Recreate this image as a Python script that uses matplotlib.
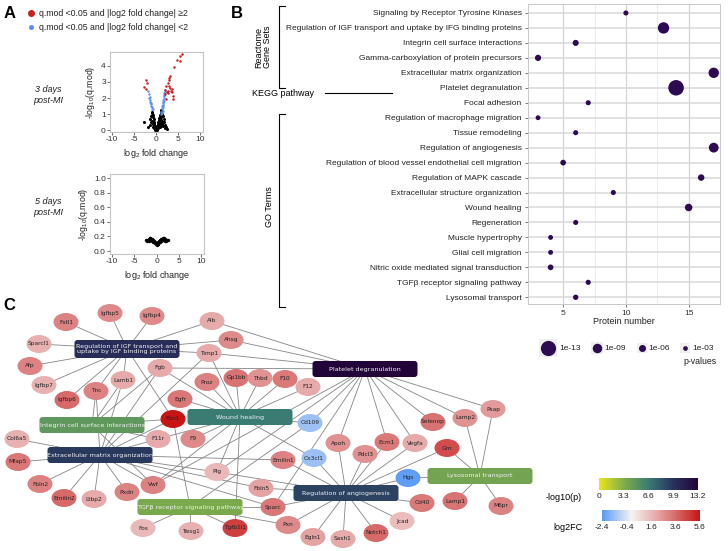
import numpy as np
import matplotlib
matplotlib.use("Agg")
import matplotlib.pyplot as plt
from matplotlib.patches import Ellipse, FancyBboxPatch, Rectangle
from matplotlib.colors import LinearSegmentedColormap, Normalize
from matplotlib.cm import ScalarMappable

plt.rcParams['font.family'] = ['Liberation Sans', 'DejaVu Sans']
plt.rcParams['mathtext.fontset'] = 'custom'
plt.rcParams['mathtext.rm'] = 'Liberation Sans'
plt.rcParams['mathtext.it'] = 'Liberation Sans:italic'
plt.rcParams['axes.unicode_minus'] = False

# ---------------- DATA ----------------
# Panel A: volcano (3 days post-MI)
red_x = [5.8, 5.45, 4.7, 5.45, 3.94, 3.18, 2.8, 3.0, 2.6, 2.3, 3.0, 3.2, 2.1, 3.3, 3.5, 2.6, 3.9, 2.0, 2.3,
         3.9, 2.45, 2.75, 3.6, -2.35, -2.1, -2.7, -2.2]
red_y = [4.75, 4.59, 4.38, 4.28, 3.93, 3.35, 3.15, 3.25, 2.94, 2.78, 2.74, 2.64, 2.53, 2.43, 2.57, 2.33, 2.13, 2.23,
         1.93, 1.95, 2.4, 2.45, 2.35, 3.1, 2.94, 2.7, 2.55]
blue_x = [-1.75, -1.6, -1.5, -1.4, -1.3, -1.2, -1.1, -1.0, -0.9, -0.8, -1.55, -1.25,
          1.15, 1.2, 1.3, 1.35, 1.4, 1.45, 1.5, 1.5, 1.55, 1.6, 1.65, 1.7, 1.7, 1.75, 1.8, 1.85, 1.9, 2.0, 1.4, 1.6]
blue_y = [2.43, 2.25, 2.1, 1.9, 1.75, 1.62, 1.5, 1.42, 1.35, 1.3, 2.0, 1.7,
          1.0, 1.15, 1.3, 1.4, 1.5, 1.2, 1.45, 1.6, 1.75, 1.9, 1.7, 1.85, 2.0, 2.15, 2.3, 2.2, 2.4, 2.5, 1.1, 1.55]
black_x = [0, 0.1, -0.1, 0.2, -0.2, 0.3, -0.3, 0.4, -0.4, 0.5, -0.5, 0.6, -0.6, 0.7, -0.7, 0.8, -0.8, 0.9, -0.9,
           1.0, -1.0, 1.1, 1.2, -0.3, 0.3, 0.5, -0.5, 0.7, -0.7, 0.9, -0.9, 1.1, 1.0, 1.3, 1.5, 1.2, 1.4, 1.6,
           1.9, 2.2, -1.1, -1.3, -1.2, 0.6, -0.6, 0.2, -0.2, 1.7, -2.8, -1.5, 0.4, 0.8, 1.0, -0.4, 0.0, 0.1,
           2.5, 2.0, 1.8, -1.8, -0.8, 1.3, 1.6, 0.6]
black_y = [0.05, 0.1, 0.1, 0.2, 0.2, 0.3, 0.3, 0.42, 0.42, 0.52, 0.55, 0.62, 0.68, 0.75, 0.8, 0.85, 0.95, 0.95, 1.05,
           1.05, 1.15, 1.15, 1.25, 0.1, 0.1, 0.2, 0.25, 0.3, 0.4, 0.45, 0.6, 0.6, 0.3, 0.4, 0.55, 0.85, 0.9, 0.3,
           0.35, 0.2, 0.5, 0.7, 0.9, 0.45, 0.45, 0.05, 0.05, 0.7, 0.5, 0.35, 0.15, 0.2, 0.65, 0.15, 0.15, 0.2,
           0.1, 0.15, 0.5, 0.2, 0.2, 1.0, 0.9, 0.3]
# Panel A: volcano (5 days post-MI)
d5_x = [-2.3, -2.0, -1.8, -1.6, -1.4, -1.2, -1.0, -0.8, -0.6, -0.4, -0.2, 0.0, 0.2, 0.4, 0.6, 0.8, 1.0, 1.2, 1.4,
        1.6, 1.8, 2.0, 2.2, 2.5, -1.8, -1.2, -0.8, -0.4, 0.4, 0.8, 1.2, 1.8, -1.5, 1.5, -0.2, 0.2, -1.0, 1.0, 2.2, -2.1]
d5_y = [0.145, 0.15, 0.16, 0.175, 0.18, 0.17, 0.16, 0.15, 0.135, 0.12, 0.105, 0.09, 0.105, 0.12, 0.135, 0.15,
        0.16, 0.17, 0.18, 0.175, 0.165, 0.155, 0.15, 0.145, 0.14, 0.145, 0.13, 0.105, 0.1, 0.13, 0.145, 0.14,
        0.155, 0.155, 0.095, 0.095, 0.14, 0.14, 0.135, 0.135]

# Panel B: enrichment
terms = ["Signaling by Receptor Tyrosine Kinases",
         "Regulation of IGF transport and uptake by IFG binding proteins",
         "Integrin cell surface interactions",
         "Gamma-carboxylation of protein precursors",
         "Extracellular matrix organization",
         "Platelet degranulation",
         "Focal adhesion",
         "Regulation of macrophage migration",
         "Tissue remodeling",
         "Regulation of angiogenesis",
         "Regulation of blood vessel endothelial cell migration",
         "Regulation of MAPK cascade",
         "Extracellular structure organization",
         "Wound healing",
         "Regeneration",
         "Muscle hypertrophy",
         "Glial cell migration",
         "Nitric oxide mediated signal transduction",
         "TGFβ receptor signaling pathway",
         "Lysosomal transport"]
protein_number = [10, 13, 6, 3, 17, 14, 7, 3, 6, 17, 5, 16, 9, 15, 6, 4, 4, 4, 7, 6]
neg_log10_p = [3.5, 10.3, 4.8, 5.0, 9.6, 13.2, 3.5, 3.2, 3.5, 9.2, 4.3, 5.3, 3.5, 6.6, 3.5, 3.2, 3.2, 4.3, 3.6, 3.9]
legend_p = [13, 9, 6, 3]
legend_labels = ["1e-13", "1e-09", "1e-06", "1e-03"]

# Panel C: network
genes = ["Fstl1", "Igfbp5", "Igfbp4", "Alb", "Sparcl1", "Ahsg", "Afp", "Timp1", "Fgb", "Lamb1", "Igfbp7",
         "Proz", "Gp1bb", "Tnc", "Igfbp6", "Egfr", "Fbn1", "Thbd", "F10", "F12", "Cd109", "F11r", "F9",
         "Apoh", "Pdcl3", "Emilin1", "Cx3cl1", "Col6a5", "Mfap5", "Fbln2", "Emilin2", "Ltbp2", "Pxdn", "Vwf",
         "Plg", "Fos", "Twsg1", "Tgfb1i1", "Fbln5", "Sparc", "Pxn", "Egln1", "Sash1", "Notch1", "Jcad", "Cd40",
         "Hgs", "Ecm1", "Vegfa", "Grn", "Lamp1", "Selenop", "Lamp2", "Psap", "M6pr"]
log2fc = [3.0, 2.8, 2.8, 2.0, 1.8, 2.8, 3.0, 2.0, 2.0, 2.0, 1.8,
          3.0, 3.4, 3.0, 3.6, 3.3, 5.6, 2.6, 3.2, 2.0, -1.4, 2.0, 2.8,
          2.6, 2.6, 3.0, -1.4, 1.8, 3.3, 3.0, 3.6, 2.0, 3.0, 3.0,
          1.6, 1.6, 1.8, 4.6, 2.2, 3.3, 2.8, 2.2, 2.0, 3.6, 1.5, 3.2,
          -2.3, 3.2, 2.0, 4.3, 3.4, 3.4, 2.6, 2.4, 3.0]
hub_terms = ["Regulation of IGF transport and uptake by IFG binding proteins", "Platelet degranulation",
             "Integrin cell surface interactions", "Wound healing", "Extracellular matrix organization",
             "TGFβ receptor signaling pathway", "Regulation of angiogenesis", "Lysosomal transport"]
hub_labels = ["Regulation of IGF transport and\nuptake by IGF binding proteins", "Platelet degranulation",
              "Integrin cell surface interactions", "Wound healing", "Extracellular matrix organization",
              "TGFβ receptor signaling pathway", "Regulation of angiogenesis", "Lysosomal transport"]
hub_members = [
    ["Fstl1", "Igfbp5", "Igfbp4", "Alb", "Sparcl1", "Ahsg", "Afp", "Timp1", "Igfbp7", "Tnc", "Igfbp6", "Lamb1", "Fbn1"],
    ["Alb", "Ahsg", "Timp1", "Fgb", "Psap", "Lamp2", "Selenop", "Vegfa", "Ecm1", "Apoh", "Cd109", "Plg", "Vwf", "Sparc"],
    ["Fgb", "Fbn1", "Tnc", "Lamb1", "F11r", "Vwf"],
    ["Proz", "Gp1bb", "Thbd", "F10", "F12", "F9", "Egfr", "Timp1", "Fgb", "Cd109", "Plg", "Vwf", "F11r", "Cx3cl1", "Tgfb1i1"],
    ["Col6a5", "Mfap5", "Fbln2", "Emilin2", "Ltbp2", "Pxdn", "Vwf", "Fbn1", "Tnc", "Lamb1", "Fgb", "F11r", "Emilin1",
     "Fbln5", "Sparc", "Plg", "Timp1"],
    ["Fos", "Twsg1", "Tgfb1i1", "Fbn1", "Cd109", "Sparc", "Pxn"],
    ["Apoh", "Pdcl3", "Ecm1", "Vegfa", "Grn", "Hgs", "Cd40", "Jcad", "Notch1", "Sash1", "Egln1", "Pxn", "Sparc",
     "Fbln5", "Emilin1", "Cx3cl1", "Plg"],
    ["Grn", "Lamp2", "Psap", "Lamp1", "M6pr", "Hgs"],
]

# ---------------- LAYOUT (pixel positions) ----------------
gene_pos = {
    "Fstl1": (66, 322), "Igfbp5": (110, 313), "Igfbp4": (152, 316), "Alb": (212, 321), "Sparcl1": (39, 344),
    "Ahsg": (231, 340), "Afp": (30, 366), "Timp1": (209, 353), "Fgb": (160, 368), "Lamb1": (123, 380),
    "Igfbp7": (44, 385), "Proz": (207, 382), "Gp1bb": (236, 378), "Tnc": (96, 391), "Igfbp6": (67, 400),
    "Egfr": (180, 399), "Fbn1": (173, 419), "Thbd": (260, 378), "F10": (285, 379), "F12": (308, 387),
    "Cd109": (310, 423), "F11r": (158, 439), "F9": (193, 439), "Apoh": (338, 443), "Pdcl3": (365, 454),
    "Emilin1": (283, 460), "Cx3cl1": (314, 458), "Col6a5": (17, 439), "Mfap5": (18, 462), "Fbln2": (40, 484),
    "Emilin2": (64, 498), "Ltbp2": (94, 499), "Pxdn": (127, 492), "Vwf": (153, 485), "Plg": (217, 472),
    "Fos": (143, 528), "Twsg1": (191, 531), "Tgfb1i1": (235, 528), "Fbln5": (261, 488), "Sparc": (273, 507),
    "Pxn": (288, 525), "Egln1": (313, 537), "Sash1": (343, 539), "Notch1": (376, 533), "Jcad": (402, 521),
    "Cd40": (422, 503), "Hgs": (408, 478), "Ecm1": (387, 442), "Vegfa": (415, 443), "Grn": (447, 448),
    "Lamp1": (455, 501), "Selenop": (433, 422), "Lamp2": (465, 418), "Psap": (493, 409), "M6pr": (501, 506),
}
hub_pos = [(127, 349), (365, 369), (92, 425), (240, 417), (100, 455), (190, 507), (346, 493), (480, 476)]

W, H = 728, 551
fig = plt.figure(figsize=(7.28, 5.51), dpi=100)


def px_axes(x0, y0, x1, y1, **kw):
    return fig.add_axes([x0 / W, 1 - y1 / H, (x1 - x0) / W, (y1 - y0) / H], **kw)


def style_volcano(ax):
    for s in ax.spines.values():
        s.set_color('#c4c4c4')
        s.set_linewidth(0.8)
    ax.tick_params(labelsize=6, length=2, width=0.6, color='#555555', labelcolor='#333333', pad=1)
    ax.set_xlim(-10.45, 10.6)
    ax.set_xticks([-10, -5, 0, 5, 10])
    ax.set_xlabel('log$_2$ fold change', fontsize=6.5, labelpad=3, color='#222222')
    ax.set_ylabel('-log$_{10}$(q.mod)', fontsize=6.3, labelpad=3, color='#222222')


# ---- Panel A ----
axA1 = px_axes(110, 52, 203, 132)
axA1.scatter(black_x, black_y, s=5, color='black', lw=0, zorder=2)
axA1.scatter(blue_x, blue_y, s=3, color='#5b8ff0', lw=0, zorder=3)
axA1.scatter(red_x, red_y, s=3.2, color='#c8201e', lw=0, zorder=4)
style_volcano(axA1)
axA1.set_ylim(-0.1, 4.86)
axA1.set_yticks([0, 1, 2, 3, 4])

axA2 = px_axes(110, 174, 204, 254)
axA2.scatter(d5_x, d5_y, s=6, color='black', lw=0)
style_volcano(axA2)
axA2.set_ylim(-0.04, 1.055)
axA2.set_yticks([0, 0.2, 0.4, 0.6, 0.8, 1.0])
axA2.set_yticklabels(['0.0', '0.2', '0.4', '0.6', '0.8', '1.0'])

# ---- Panel B ----
axB = px_axes(528, 4, 720, 304)
n = len(terms)
yy = np.arange(n)


def diam_px(v):
    return np.interp(v, [3, 6, 9, 13.2], [4.7, 7.0, 9.5, 15.5])


sizes = (diam_px(np.array(neg_log10_p)) * 0.72) ** 2
axB.scatter(protein_number, yy, s=sizes, color='#2e0a52', lw=0, zorder=3)
axB.set_ylim(n - 0.55, -0.6)
axB.set_xlim(2.2, 17.5)
axB.set_yticks(yy)
axB.set_yticklabels(terms, fontsize=5.6, color='#222222')
axB.set_xticks([5, 10, 15])
axB.set_xticks([7.5, 12.5], minor=True)
axB.set_axisbelow(True)
axB.grid(which='major', axis='y', color='#d9d9d9', lw=1.1)
axB.grid(which='major', axis='x', color='#d4d4d4', lw=0.9)
axB.grid(which='minor', axis='x', color='#e2e2e2', lw=0.5)
axB.tick_params(axis='both', which='major', labelsize=6, length=2.5, width=0.6, color='#666666', pad=2)
axB.tick_params(axis='x', which='major', labelcolor='#333333', pad=1.5)
axB.tick_params(which='minor', length=0)
for s in axB.spines.values():
    s.set_color('#c8c8c8')
    s.set_linewidth(0.7)
axB.set_xlabel('Protein number', fontsize=6.5, labelpad=0.5, color='#222222')

# ---- Overlay (annotations + network) ----
ov = fig.add_axes([0, 0, 1, 1], facecolor='none')
ov.set_xlim(0, W)
ov.set_ylim(H, 0)
ov.axis('off')

# panel letters
for lab, (x, y) in zip(['A', 'B', 'C'], [(4, 14), (231, 14), (3, 305)]):
    ov.text(x, y, lab, fontsize=12, fontweight='bold', ha='left', va='center')

# A legend
ov.scatter([31], [13], s=(7 * 0.72) ** 2, color='#c8201e', lw=0)
ov.scatter([30.5], [27], s=(5 * 0.72) ** 2, color='#5b8ff0', lw=0)
ov.text(39, 13, 'q.mod <0.05 and |log2 fold change| ≥2', fontsize=6.3, va='center', color='#222222')
ov.text(39, 27, 'q.mod <0.05 and |log2 fold change| <2', fontsize=6.3, va='center', color='#222222')
ov.text(48, 95, '3 days\npost-MI', fontsize=6.5, style='italic', ha='center', va='center', color='#222222')
ov.text(48, 207, '5 days\npost-MI', fontsize=6.5, style='italic', ha='center', va='center', color='#222222')

# B brackets
ov.plot([285, 279, 279, 285], [6, 6, 88, 88], color='black', lw=0.8)
ov.text(263, 47, 'Reactome\nGene Sets', rotation=90, fontsize=6.5, ha='center', va='center', linespacing=1.0)
ov.text(252, 93, 'KEGG pathway', fontsize=6.5, ha='left', va='center')
ov.plot([325, 392], [93, 93], color='black', lw=0.8)
ov.plot([285, 279, 279, 285], [114, 114, 307, 307], color='black', lw=0.8)
ov.text(269, 207, 'GO Terms', rotation=90, fontsize=6.5, ha='center', va='center')

# B legend
leg_cx = [548, 597, 642, 685]
leg_tx = [559, 604, 648, 692]
for v, lab, cx, tx in zip(legend_p, legend_labels, leg_cx, leg_tx):
    d = diam_px(v)
    k = max(d + 3, 10)
    ov.add_patch(Rectangle((cx - k / 2, 348 - k / 2), k, k, color='#efefef', lw=0, zorder=1))
    ov.scatter([cx], [348], s=(d * 0.72) ** 2, color='#2e0a52', lw=0, zorder=2)
    ov.text(tx, 348, lab, fontsize=6, va='center', ha='left', color='#222222')
ov.text(683, 361, 'p-values', fontsize=6.3, va='center', ha='left', color='#222222')

# colormaps
p_cmap = LinearSegmentedColormap.from_list('pc', [(0, '#ece51b'), (0.25, '#80ad4a'), (0.5, '#3a7c74'),
                                                  (0.75, '#28335c'), (1.0, '#22043b')])
p_norm = Normalize(0, 13.2)
fc_cmap = LinearSegmentedColormap.from_list('fc', [(0, '#5a9bf5'), (0.3, '#f7f3f2'), (0.55, '#e6aaaa'),
                                                   (0.8, '#d45a5a'), (1.0, '#c91414')])
fc_norm = Normalize(-2.4, 5.6)

# network edges
term_idx = {t: i for i, t in enumerate(terms)}
for hp, members in zip(hub_pos, hub_members):
    for g in members:
        gx, gy = gene_pos[g]
        ov.plot([hp[0], gx], [hp[1], gy], color='#858585', lw=0.6, zorder=2)

# hubs
bw, bh = 105, 16
for t, lab, hp in zip(hub_terms, hub_labels, hub_pos):
    col = p_cmap(p_norm(neg_log10_p[term_idx[t]]))
    h = bh + (2 if '\n' in lab else 0)
    ov.add_patch(FancyBboxPatch((hp[0] - bw / 2, hp[1] - h / 2), bw, h,
                                boxstyle='round,pad=0,rounding_size=3', fc=col, ec='none', zorder=3))
    ov.text(hp[0], hp[1], lab, fontsize=4.6, color='#f2f2f2', ha='center', va='center', zorder=4,
            family='DejaVu Sans', linespacing=1.1)

# genes
for g, v in zip(genes, log2fc):
    x, y = gene_pos[g]
    ov.add_patch(Ellipse((x, y), 25, 18, fc=fc_cmap(fc_norm(v)), ec='none', zorder=5))
    ov.text(x, y, g, fontsize=4.2, color='#222222', ha='center', va='center', zorder=6, family='DejaVu Sans')

# colorbars
cax1 = px_axes(599, 478, 698, 490)
cb1 = fig.colorbar(ScalarMappable(norm=p_norm, cmap=p_cmap), cax=cax1, orientation='horizontal')
cb1.outline.set_visible(False)
cb1.set_ticks([0, 3.3, 6.6, 9.9, 13.2])
cb1.set_ticklabels(['0', '3.3', '6.6', '9.9', '13.2'])
cax1.tick_params(length=0, labelsize=6, pad=2, labelcolor='#222222')
ov.text(582, 497, '-log10(p)', fontsize=6.5, ha='right', va='center')

cax2 = px_axes(602, 510, 700, 521)
cb2 = fig.colorbar(ScalarMappable(norm=fc_norm, cmap=fc_cmap), cax=cax2, orientation='horizontal')
cb2.outline.set_visible(False)
cb2.set_ticks([-2.4, -0.4, 1.6, 3.6, 5.6])
cb2.set_ticklabels(['-2.4', '-0.4', '1.6', '3.6', '5.6'])
cax2.tick_params(length=0, labelsize=6, pad=2, labelcolor='#222222')
ov.text(582, 528, 'log2FC', fontsize=6.5, ha='right', va='center')

fig.savefig('out.png', dpi=100)
